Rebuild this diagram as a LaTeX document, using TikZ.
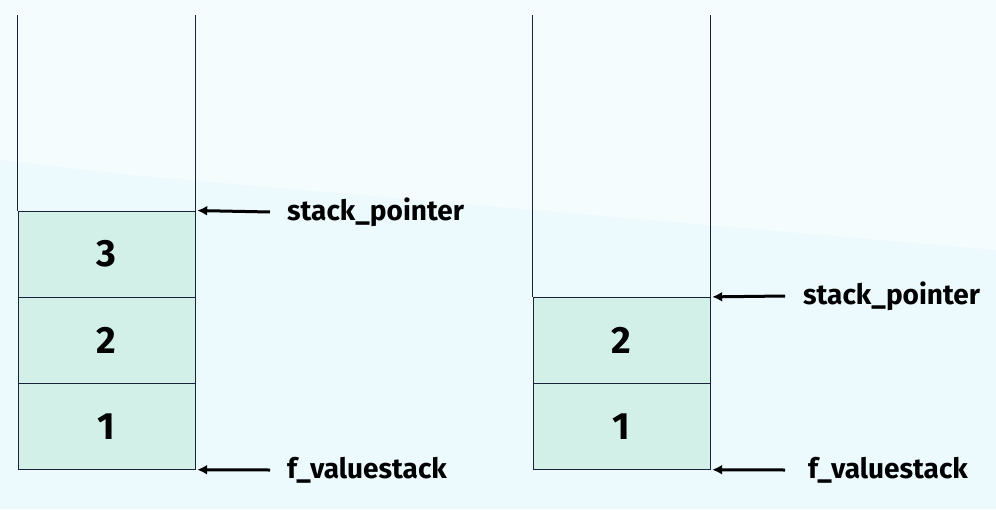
\documentclass[tikz,border=0pt]{standalone}
\usepackage{fontspec}
\setmainfont{Fira Sans}
\usetikzlibrary{positioning, arrows.meta}
\definecolor{cellfill}{RGB}{210,240,232}
\definecolor{edge}{RGB}{25,35,60}
\definecolor{bgblue}{RGB}{236,249,253}
\definecolor{bglight}{RGB}{245,252,254}

\begin{document}
\begin{tikzpicture}[x=1pt, y=-1pt,
    cell/.style={draw=edge, fill=cellfill, minimum width=177pt, minimum height=86pt, inner sep=0pt, font=\fontsize{38}{38}\selectfont\bfseries},
    wall/.style={draw=edge, line width=0.8pt},
    ptr/.style={{Latex[length=10pt,width=10pt]}-, line width=3pt, shorten <=2pt},
    lbl/.style={anchor=west, inner sep=0pt, font=\fontsize{28}{28}\selectfont\bfseries}
]

% Background
\fill[bgblue] (0,0) rectangle (996,509);
\fill[bglight] (0,0) -- (996,0) -- (996,250) -- (130,175) -- (0,160) -- cycle;
\useasboundingbox (0,0) rectangle (996,509);

% Left stack
\node[cell] (l1) at (106.5,426.5) {1};
\node[cell, above=0pt of l1] (l2) {2};
\node[cell, above=0pt of l2] (l3) {3};
\coordinate (ltop) at (18,15);
\draw[wall] (l3.north west) -- (l3.north west |- ltop);
\draw[wall] (l3.north east) -- (l3.north east |- ltop);

% Right stack
\node[cell] (r1) at (621.5,426.5) {1};
\node[cell, above=0pt of r1] (r2) {2};
\coordinate (rtop) at (533,15);
\draw[wall] (r2.north west) -- (r2.north west |- rtop);
\draw[wall] (r2.north east) -- (r2.north east |- rtop);

% Labels
\node[lbl] (lsp) at (287,212) {stack\_pointer};
\node[lbl] (lfv) at (287,470) {f\_valuestack};
\node[lbl] (rsp) at (803,296) {stack\_pointer};
\node[lbl] (rfv) at (808,470) {f\_valuestack};

% Arrows
\draw[ptr] (l3.north east) -- ([xshift=-17pt]lsp.west);
\draw[ptr] (l1.south east) -- ([xshift=-17pt]lfv.west);
\draw[ptr] (r2.north east) -- ([xshift=-18pt]rsp.west);
\draw[ptr] (r1.south east) -- ([xshift=-23pt]rfv.west);

\end{tikzpicture}
\end{document}
